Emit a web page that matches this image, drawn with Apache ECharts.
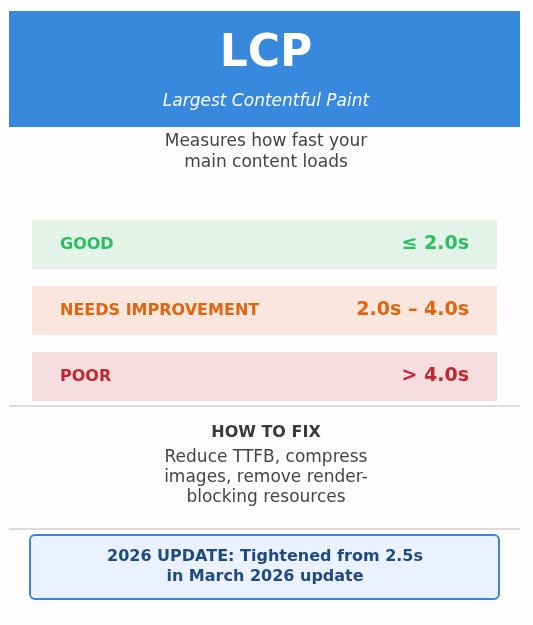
<!DOCTYPE html>
<html><head><meta charset="utf-8">
<script src="https://cdn.jsdelivr.net/npm/echarts@6/dist/echarts.min.js"></script>
<style>html,body{margin:0;padding:0;background:#fffdfe}#c{width:533px;height:625px}</style>
</head><body><div id="c"></div>
<script>
const title = "LCP";
const subtitle = "Largest Contentful Paint";
const description = ["Measures how fast your", "main content loads"];
const ratingLabels = ["GOOD", "NEEDS IMPROVEMENT", "POOR"];
const ratingValues = ["≤ 2.0s", "2.0s – 4.0s", "> 4.0s"];
const fixTitle = "HOW TO FIX";
const fixLines = ["Reduce TTFB, compress", "images, remove render-", "blocking resources"];
const updateLines = ["2026 UPDATE: Tightened from 2.5s", "in March 2026 update"];

const bgColors = ["#e3f3ea", "#fae6dc", "#f5dde0"];
const fgColors = ["#2dbe60", "#e0650f", "#c0282e"];
const F = "DejaVu Sans";
const els = [];
els.push({type:'rect', shape:{x:9,y:11,width:511,height:116}, style:{fill:'#3889dd'}});
els.push({type:'text', x:266, y:55, style:{text:title, fill:'#fff', font:'bold 44px '+F, align:'center', verticalAlign:'middle'}});
els.push({type:'text', x:266, y:102, style:{text:subtitle, fill:'#fff', font:'italic 17px '+F, align:'center', verticalAlign:'middle'}});
description.forEach((t,i)=>els.push({type:'text', x:266, y:142+i*21, style:{text:t, fill:'#444', font:'17px '+F, align:'center', verticalAlign:'middle'}}));
ratingLabels.forEach((l,i)=>{
  const y = 220 + i*66;
  els.push({type:'rect', shape:{x:32,y:y,width:465,height:49}, style:{fill:bgColors[i]}});
  els.push({type:'text', x:60, y:y+24.5, style:{text:l, fill:fgColors[i], font:'bold 16px '+F, verticalAlign:'middle'}});
  els.push({type:'text', x:469, y:y+24.5, style:{text:ratingValues[i], fill:fgColors[i], font:'bold 19px '+F, align:'right', verticalAlign:'middle'}});
});
els.push({type:'line', shape:{x1:9,y1:406,x2:520,y2:406}, style:{stroke:'#bbb', lineWidth:1}});
els.push({type:'text', x:266, y:433, style:{text:fixTitle, fill:'#3a3a3a', font:'bold 16px '+F, align:'center', verticalAlign:'middle'}});
fixLines.forEach((t,i)=>els.push({type:'text', x:266, y:458+i*20, style:{text:t, fill:'#444', font:'17px '+F, align:'center', verticalAlign:'middle'}}));
els.push({type:'line', shape:{x1:9,y1:529,x2:520,y2:529}, style:{stroke:'#bbb', lineWidth:1}});
els.push({type:'rect', shape:{x:30,y:535,width:469,height:64,r:5}, style:{fill:'#ebf1ff', stroke:'#3a85d6', lineWidth:2}});
updateLines.forEach((t,i)=>els.push({type:'text', x:265, y:557+i*20, style:{text:t, fill:'#1f4a80', font:'bold 16px '+F, align:'center', verticalAlign:'middle'}}));

const chart = echarts.init(document.getElementById('c'));
chart.setOption({backgroundColor:'#fffdfe', graphic:{elements:els}});
</script></body></html>
